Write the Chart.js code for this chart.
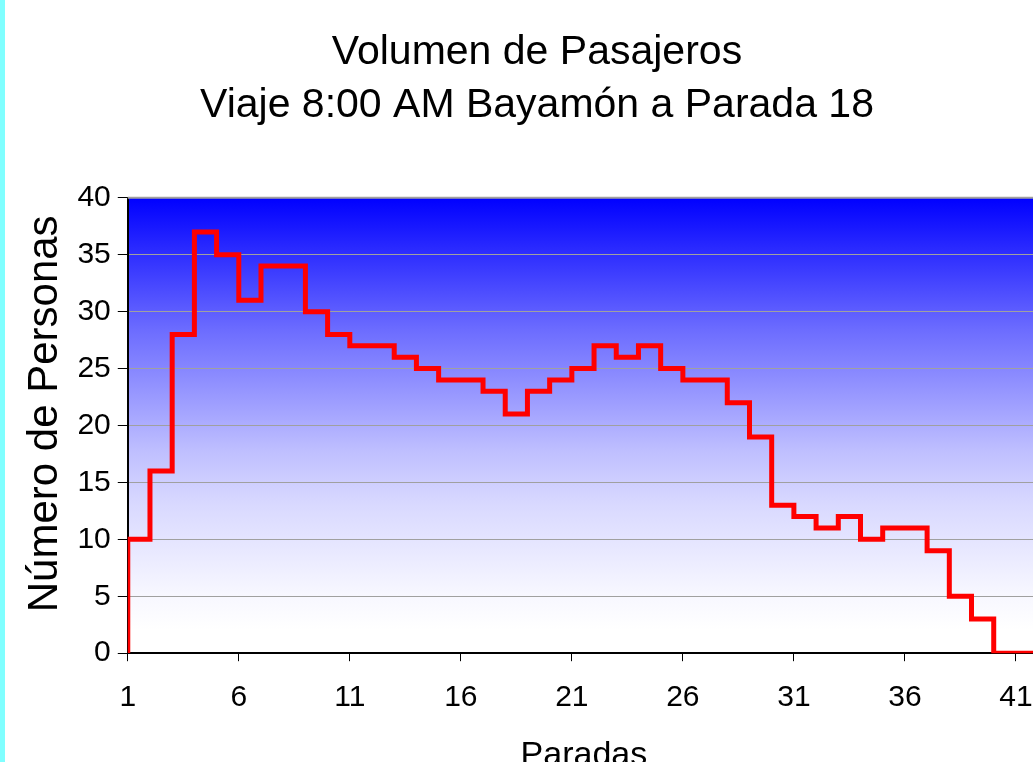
<!DOCTYPE html>
<html>
<head>
<meta charset="utf-8">
<style>
    html, body { margin: 0; padding: 0; background: #fff; overflow: hidden; }
    #wrap { position: relative; width: 1059px; height: 780px; }
    #strip { position: absolute; left: 0; top: 0; width: 5px; height: 762px; background: #80ffff; z-index: 2; }
</style>
</head>
<body>
<div id="strip"></div>
<div id="wrap">
    <canvas id="chart" width="1059" height="780"></canvas>
</div>

<script src="https://cdn.jsdelivr.net/npm/chart.js"></script>
<script type="text/javascript">
    // paradas (stops) and passengers on board after each stop
    const paradas = [1, 2, 3, 4, 5, 6, 7, 8, 9, 10, 11, 12, 13, 14, 15, 16, 17, 18, 19, 20,
        21, 22, 23, 24, 25, 26, 27, 28, 29, 30, 31, 32, 33, 34, 35, 36, 37, 38, 39, 40, 41];
    const pasajeros = [10, 16, 28, 37, 35, 31, 34, 34, 30, 28, 27, 27, 26, 25, 24, 24, 23, 21, 23, 24,
        25, 27, 26, 27, 25, 24, 24, 22, 19, 13, 12, 11, 12, 10, 11, 11, 9, 5, 3, 0, 0];
    const xTicks = [1, 6, 11, 16, 21, 26, 31, 36, 41];

    const FONT = "'Liberation Sans', Arial, sans-serif";

    // step line starts from zero at the first stop and closes at the end of the last one
    const points = [{ x: paradas[0], y: 0 }];
    paradas.forEach((p, i) => points.push({ x: p, y: pasajeros[i] }));
    points.push({ x: paradas[paradas.length - 1] + 1, y: pasajeros[pasajeros.length - 1] });

    const plotBackground = {
        id: 'plotBackground',
        beforeDraw(chart) {
            const { ctx, chartArea: a } = chart;
            const g = ctx.createLinearGradient(0, a.top, 0, a.bottom);
            g.addColorStop(0, '#0000ff');
            g.addColorStop(0.29, '#6c6cff');
            g.addColorStop(0.56, '#c0c0ff');
            g.addColorStop(0.67, '#d8d8ff');
            g.addColorStop(0.87, '#f7f7ff');
            g.addColorStop(0.95, '#ffffff');
            ctx.save();
            ctx.fillStyle = g;
            ctx.fillRect(a.left, a.top, a.right - a.left, a.bottom - a.top);
            ctx.restore();
        },
        afterDatasetsDraw(chart) {
            const { ctx, chartArea: a } = chart;
            ctx.save();
            ctx.strokeStyle = '#a0a0a0';
            ctx.lineWidth = 2;
            ctx.beginPath();
            ctx.moveTo(a.left, a.top);
            ctx.lineTo(a.right, a.top);
            ctx.stroke();
            ctx.restore();
        }
    };

    new Chart(document.getElementById('chart'), {
        type: 'line',
        data: {
            datasets: [{
                data: points,
                stepped: 'before',
                borderColor: '#ff0000',
                borderWidth: 5,
                pointRadius: 0,
                fill: false
            }]
        },
        options: {
            responsive: false,
            animation: false,
            layout: { padding: { left: 15, right: 0, top: 0, bottom: 0 } },
            scales: {
                x: {
                    type: 'linear',
                    min: 1,
                    max: 42.94,   // plot runs past the window edge, as in the picture
                    afterBuildTicks: (axis) => { axis.ticks = xTicks.map(v => ({ value: v })); },
                    grid: { drawOnChartArea: false, drawTicks: true, tickLength: 8, color: '#000', tickWidth: 1 },
                    border: { display: true, color: '#000', width: 2 },
                    ticks: { color: '#000', font: { family: FONT, size: 30 }, padding: 19, maxRotation: 0, autoSkip: false },
                    title: { display: true, text: 'Paradas  ', color: '#000', font: { family: FONT, size: 34 }, padding: { top: 0 } }
                },
                y: {
                    min: 0,
                    max: 40,
                    ticks: { stepSize: 5, color: '#000', font: { family: FONT, size: 30 }, padding: 7 },
                    grid: { color: '#a0a0a0', lineWidth: 1, tickColor: '#000', tickLength: 10 },
                    border: { display: true, color: '#000', width: 2 },
                    title: { display: true, text: '  Número de Personas', color: '#000', font: { family: FONT, size: 42 }, padding: { top: 5, bottom: 0 } }
                }
            },
            plugins: {
                legend: { display: false },
                tooltip: { enabled: false },
                title: {
                    display: true,
                    text: ['Volumen de Pasajeros', 'Viaje 8:00 AM Bayamón a Parada 18'],
                    color: '#000',
                    font: { family: FONT, size: 41, weight: 'normal', lineHeight: 1.29 },
                    padding: { top: 26, bottom: 66 }
                }
            }
        },
        plugins: [plotBackground]
    });
</script>
</body>
</html>
